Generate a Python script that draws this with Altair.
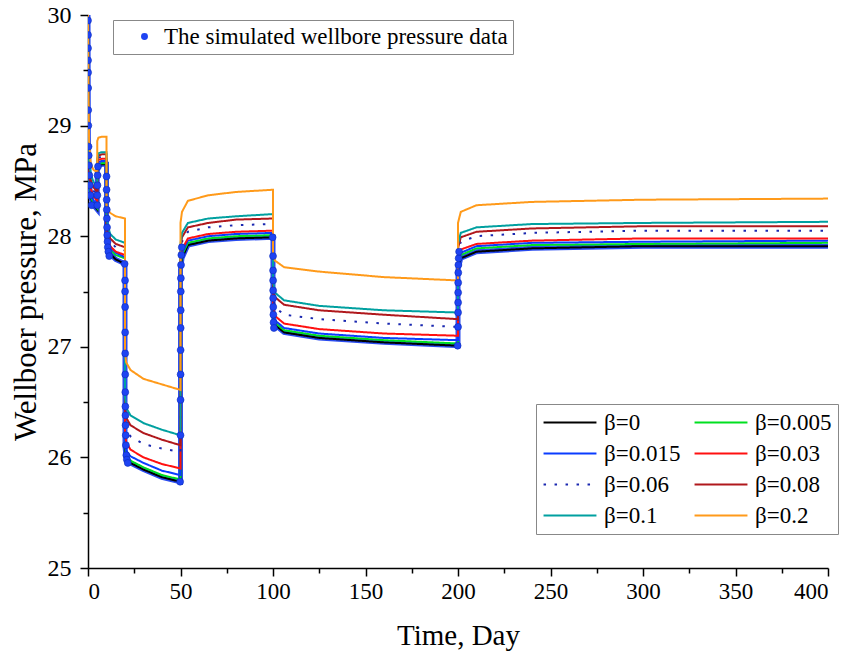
import altair as alt
import pandas as pd

# ---------------- data ----------------
times = [0, 0.2, 0.6, 1.5, 3, 5,
         5, 5.6, 7.5, 10,
         10, 10.6, 12, 15, 20,
         20, 20.6, 23, 30, 40, 50,
         50, 50.8, 54, 65, 80, 100,
         100, 101, 106, 125, 160, 200,
         200, 201.5, 210, 240, 300, 400]

beta_labels = ["β=0", "β=0.005", "β=0.015", "β=0.03",
               "β=0.06", "β=0.08", "β=0.1", "β=0.2"]

p_beta_0 = [30.0, 28.90, 28.50, 28.35, 28.28, 28.24,
            28.58, 28.64, 28.65, 28.65,
            28.00, 27.92, 27.84, 27.79, 27.75,
            26.10, 26.00, 25.95, 25.89, 25.82, 25.78,
            27.70, 27.80, 27.92, 27.96, 27.98, 27.99,
            27.30, 27.20, 27.13, 27.08, 27.04, 27.01,
            27.70, 27.80, 27.86, 27.89, 27.91, 27.91]
p_beta_0005 = [30.0, 28.90, 28.50, 28.36, 28.29, 28.25,
               28.60, 28.65, 28.66, 28.66,
               28.02, 27.95, 27.88, 27.83, 27.80,
               26.12, 26.02, 25.97, 25.91, 25.84, 25.80,
               27.73, 27.83, 27.94, 27.98, 28.00, 28.01,
               27.32, 27.22, 27.15, 27.10, 27.06, 27.03,
               27.73, 27.83, 27.89, 27.92, 27.93, 27.94]
p_beta_0015 = [30.0, 28.92, 28.53, 28.39, 28.32, 28.28,
               28.62, 28.67, 28.68, 28.68,
               28.03, 27.97, 27.90, 27.85, 27.81,
               26.16, 26.06, 26.01, 25.95, 25.88, 25.84,
               27.75, 27.85, 27.96, 28.00, 28.02, 28.03,
               27.34, 27.24, 27.17, 27.12, 27.08, 27.06,
               27.75, 27.85, 27.91, 27.94, 27.95, 27.96]
p_beta_003 = [30.0, 28.95, 28.56, 28.43, 28.36, 28.32,
              28.64, 28.69, 28.70, 28.70,
              28.06, 27.99, 27.91, 27.86, 27.83,
              26.24, 26.14, 26.07, 26.00, 25.94, 25.90,
              27.78, 27.88, 27.98, 28.02, 28.04, 28.05,
              27.38, 27.28, 27.21, 27.16, 27.12, 27.10,
              27.78, 27.88, 27.93, 27.96, 27.98, 27.98]
p_beta_006 = [30.0, 28.98, 28.60, 28.48, 28.41, 28.37,
              28.66, 28.71, 28.72, 28.72,
              28.10, 28.03, 27.95, 27.90, 27.87,
              26.35, 26.25, 26.19, 26.12, 26.08, 26.05,
              27.85, 27.95, 28.04, 28.08, 28.10, 28.11,
              27.46, 27.36, 27.29, 27.25, 27.21, 27.18,
              27.85, 27.95, 28.00, 28.03, 28.05, 28.05]
p_beta_008 = [30.0, 29.00, 28.63, 28.51, 28.44, 28.40,
              28.68, 28.73, 28.74, 28.74,
              28.13, 28.06, 27.98, 27.93, 27.90,
              26.46, 26.36, 26.29, 26.22, 26.16, 26.11,
              27.89, 27.99, 28.08, 28.12, 28.15, 28.16,
              27.55, 27.45, 27.38, 27.33, 27.29, 27.25,
              27.89, 27.99, 28.04, 28.07, 28.09, 28.09]
p_beta_01 = [30.0, 29.05, 28.68, 28.56, 28.49, 28.45,
             28.70, 28.75, 28.76, 28.76,
             28.17, 28.10, 28.02, 27.97, 27.94,
             26.55, 26.45, 26.38, 26.31, 26.25, 26.20,
             27.93, 28.03, 28.12, 28.16, 28.18, 28.20,
             27.59, 27.49, 27.42, 27.37, 27.33, 27.31,
             27.93, 28.03, 28.08, 28.11, 28.12, 28.13]
p_beta_02 = [30.0, 29.30, 28.85, 28.65, 28.60, 28.58,
             28.86, 28.89, 28.90, 28.90,
             28.28, 28.24, 28.21, 28.18, 28.16,
             26.96, 26.86, 26.79, 26.71, 26.66, 26.61,
             28.12, 28.22, 28.32, 28.37, 28.40, 28.42,
             27.85, 27.78, 27.72, 27.68, 27.63, 27.60,
             28.12, 28.22, 28.28, 28.31, 28.33, 28.34]

all_series = [p_beta_0, p_beta_0005, p_beta_0015, p_beta_003,
              p_beta_006, p_beta_008, p_beta_01, p_beta_02]

# simulated wellbore pressure data (blue dots)
dot_label = "The simulated wellbore pressure data"
dot_t = [0, 0.01, 0.02, 0.04, 0.06, 0.09, 0.13, 0.18, 0.3, 0.4, 0.55, 0.75, 1.0, 1.4, 2.0,
         5.02, 5.05, 5.1, 5.2, 5.4,
         10.02, 10.05, 10.1, 10.15, 10.2, 10.3, 10.4, 10.55, 10.7, 11.0, 11.5, 19.8,
         20.02, 20.04, 20.06, 20.08, 20.1, 20.13, 20.16, 20.2, 20.25, 20.3, 20.4, 20.5, 20.7, 21.0, 21.5,
         49.8, 50.02, 50.04, 50.06, 50.08, 50.1, 50.13, 50.16, 50.2, 50.3, 50.45, 50.7,
         99.8, 100.02, 100.04, 100.06, 100.08, 100.1, 100.15, 100.2, 100.3, 100.5,
         199.8, 200.02, 200.04, 200.06, 200.08, 200.1, 200.15, 200.2, 200.35, 200.6]
dot_p = [29.95, 29.82, 29.70, 29.59, 29.48, 29.34, 29.14, 29.00, 28.81, 28.73, 28.64, 28.55, 28.46, 28.37, 28.28,
         28.28, 28.37, 28.46, 28.55, 28.63,
         28.54, 28.42, 28.33, 28.24, 28.16, 28.08, 28.01, 27.95, 27.90, 27.86, 27.82, 27.75,
         27.60, 27.50, 27.36, 27.13, 26.94, 26.75, 26.59, 26.46, 26.38, 26.29, 26.20, 26.11, 26.02, 25.98, 25.95,
         25.78, 26.20, 26.52, 26.75, 26.97, 27.17, 27.33, 27.50, 27.62, 27.74, 27.83, 27.90,
         27.99, 27.82, 27.69, 27.60, 27.51, 27.44, 27.36, 27.29, 27.22, 27.17,
         27.01, 27.18, 27.31, 27.40, 27.49, 27.58, 27.67, 27.74, 27.80, 27.86]

x_ticks = [0, 25, 50, 75, 100, 125, 150, 175, 200, 225, 250, 275, 300, 325, 350, 375, 400]
y_ticks = [25, 25.5, 26, 26.5, 27, 27.5, 28, 28.5, 29, 29.5, 30]

# ---------------- styles ----------------
line_colors = {"β=0": "#000000", "β=0.005": "#00e020", "β=0.015": "#0a3cff", "β=0.03": "#ff1010",
               "β=0.06": "#1a28b0", "β=0.08": "#b0181c", "β=0.1": "#00a0a0", "β=0.2": "#ff9a1a"}
line_dashes = {lab: [1, 0] for lab in beta_labels}
line_dashes["β=0.06"] = [2.5, 8.5]
# legend fills column by column: order so that rows read like the reference
legend_order = ["β=0", "β=0.015", "β=0.06", "β=0.1",
                "β=0.005", "β=0.03", "β=0.08", "β=0.2"]
FONT = "Liberation Serif"

rows = []
for lab, series in zip(beta_labels, all_series):
    for i, (t, p) in enumerate(zip(times, series)):
        rows.append({"t": t, "p": p, "beta": lab, "idx": i})
lines_df = pd.DataFrame(rows)
band_df = lines_df[lines_df["beta"] == beta_labels[0]]
dots_df = pd.DataFrame({"t": dot_t, "p": dot_p, "series": dot_label})

xaxis = alt.Axis(values=x_ticks,
                 labelExpr="datum.value % 50 === 0 ? format(datum.value, 'd') : ''",
                 tickSize={"condition": {"test": "datum.value % 50 === 0", "value": 8}, "value": 5},
                 grid=False, domainColor="black", domainWidth=1.5, tickColor="black", tickWidth=1.5,
                 labelFont=FONT, labelFontSize=23, labelColor="black", labelPadding=4,
                 labelOverlap=False,
                 titleFont=FONT, titleFontSize=29, titleFontWeight="normal", titleColor="black",
                 titlePadding=18)
yaxis = alt.Axis(values=y_ticks,
                 labelExpr="datum.value % 1 === 0 ? format(datum.value, 'd') : ''",
                 tickSize={"condition": {"test": "datum.value % 1 === 0", "value": 8}, "value": 5},
                 grid=False, domainColor="black", domainWidth=1.5, tickColor="black", tickWidth=1.5,
                 labelFont=FONT, labelFontSize=24, labelColor="black", labelPadding=9,
                 labelOverlap=False,
                 titleFont=FONT, titleFontSize=31, titleFontWeight="normal", titleColor="black",
                 titlePadding=5)

x_enc = alt.X("t:Q", scale=alt.Scale(domain=[0, 400], nice=False), axis=xaxis, title="Time, Day")
y_enc = alt.Y("p:Q", scale=alt.Scale(domain=[25, 30], nice=False, zero=False), axis=yaxis,
              title="Wellboer pressure, MPa")

band = alt.Chart(band_df).mark_line(color="#2a4cf0", strokeWidth=5, clip=True).encode(
    x=x_enc, y=y_enc, order="idx:Q")

legend_kw = dict(title=None, orient="none", legendX=448, legendY=389, columns=2,
                 symbolType="stroke", symbolSize=2800, symbolStrokeWidth=2.2,
                 labelFont=FONT, labelFontSize=23, labelColor="black", labelLimit=300,
                 clipHeight=25, rowPadding=6, columnPadding=12, labelOffset=6,
                 padding=6, strokeColor="#888888", fillColor="white")

lines = alt.Chart(lines_df).mark_line(strokeWidth=2, clip=True).encode(
    x=x_enc, y=y_enc,
    color=alt.Color("beta:N",
                    scale=alt.Scale(domain=legend_order,
                                    range=[line_colors[b] for b in legend_order]),
                    legend=alt.Legend(**legend_kw)),
    strokeDash=alt.StrokeDash("beta:N",
                              scale=alt.Scale(domain=legend_order,
                                              range=[line_dashes[b] for b in legend_order]),
                              legend=alt.Legend(**legend_kw)),
    order="idx:Q")

dots = alt.Chart(dots_df).mark_point(filled=True, size=48, color="#1e43f2", stroke="#0c2bb8",
                                     strokeWidth=0.6, opacity=1, clip=True).encode(
    x=x_enc, y=y_enc,
    shape=alt.Shape("series:N", scale=alt.Scale(domain=[dot_label], range=["circle"]),
                    legend=alt.Legend(title=None, orient="none", legendX=25, legendY=5,
                                      symbolSize=48, symbolFillColor="#1e43f2",
                                      symbolStrokeColor="#0c2bb8", symbolOffset=15,
                                      labelFont=FONT, labelFontSize=23, labelColor="black",
                                      labelLimit=500, labelOffset=8, padding=5,
                                      strokeColor="#888888", fillColor="white")))

chart = alt.layer(band, lines, dots).properties(
    width=740, height=553,
    padding={"left": 88, "top": 15, "right": 17, "bottom": 89},
    autosize=alt.AutoSizeParams(type="none"),
    background="white",
).configure_view(stroke=None)

chart.save("out.html", embed_options={"renderer": "svg", "actions": False})
